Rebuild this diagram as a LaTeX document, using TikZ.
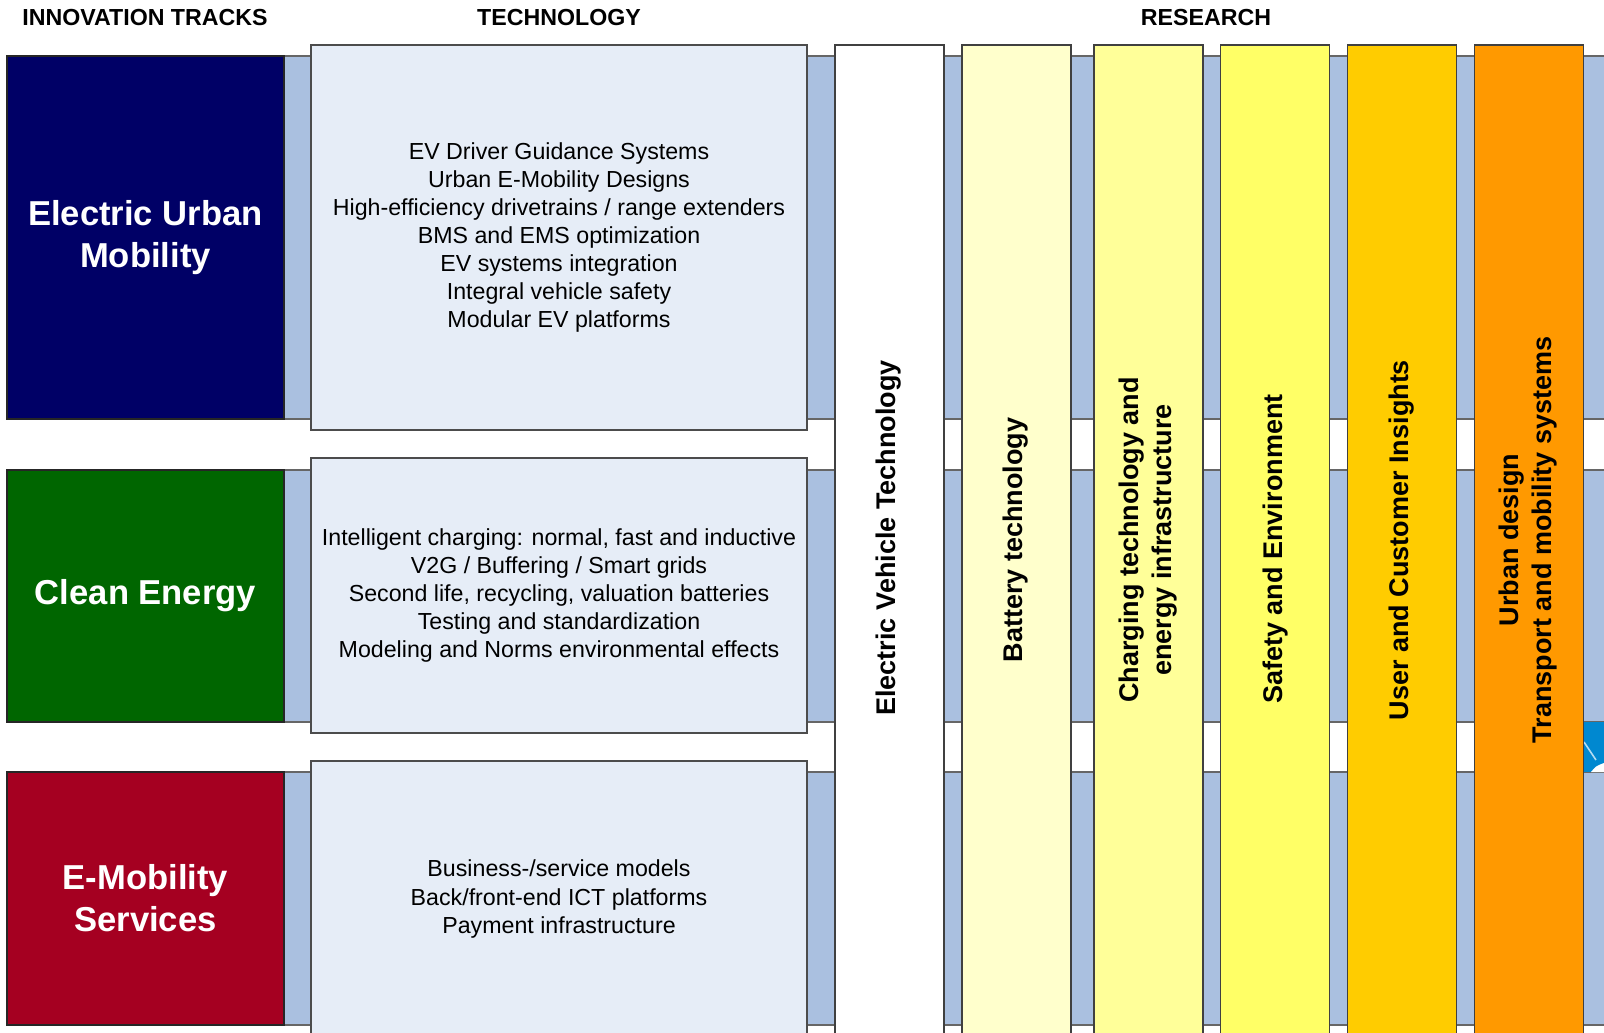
\documentclass[tikz,border=0pt]{standalone}
\usepackage{fontspec}
\setmainfont{Liberation Sans}
\definecolor{navytrack}{HTML}{000066}
\definecolor{greentrack}{HTML}{006600}
\definecolor{redtrack}{HTML}{A50021}
\definecolor{bandblue}{HTML}{AAC0E0}
\definecolor{techfill}{HTML}{E6EDF7}
\definecolor{colbattery}{HTML}{FFFFCC}
\definecolor{colcharging}{HTML}{FFFF99}
\definecolor{colsafety}{HTML}{FFFF66}
\definecolor{coluser}{HTML}{FFCC00}
\definecolor{colurban}{HTML}{FF9900}
\definecolor{logoblue}{HTML}{0088D0}
\begin{document}
\begin{tikzpicture}[x=0.5pt, y=-0.5pt, band/.style={draw=black!60, line width=0.6pt, fill=bandblue}]
        \tikzset{track/.style={rectangle, draw=black!85, line width=0.6pt, text=white, align=center, minimum width=138.5pt, font=\bfseries\fontsize{17.3}{21}\selectfont},
            techbox/.style={rectangle, draw=black!70, line width=0.6pt, fill=techfill, align=center, minimum width=248pt, font=\fontsize{11.6}{14.05}\selectfont},
            column/.style={rectangle, draw=black!75, line width=0.6pt, minimum width=54.5pt, minimum height=497.5pt},
            collabel/.style={rotate=90, align=center, font=\bfseries\fontsize{13.5}{16.4}\selectfont},
            heading/.style={font=\bfseries\fontsize{11.6}{14}\selectfont}};
        \useasboundingbox[fill=white] (0, 0) rectangle (1604, 1032);

        % headings
        \node[heading] (h1) at (145, 18) {INNOVATION TRACKS};
        \node[heading] (h2) at (559, 18) {TECHNOLOGY};
        \node[heading] (h3) at (1206, 18) {RESEARCH};

        % bands behind the tracks
        \draw[band] (7, 56) rectangle (1610, 419);
        \draw[band] (7, 470) rectangle (1610, 722);
        \draw[band] (7, 772) rectangle (1610, 1025);
        \fill[logoblue] (1584, 722) rectangle (1604, 772);
        \fill[white] (1591, 772) .. controls (1596, 766) .. (1604, 763) -- (1604, 772) -- cycle;
        \draw[white!70!logoblue, line width=0.8pt] (1584, 742) -- (1596, 760);

        % innovation tracks
        \node[track, fill=navytrack, minimum height=181.5pt] (t1) at (145.5, 237.5) {Electric Urban\\Mobility};
        \node[track, fill=greentrack, minimum height=126pt] (t2) at (145.5, 596) {Clean Energy};
        \node[track, fill=redtrack, minimum height=126.5pt] (t3) at (145.5, 898.5) {E-Mobility\\Services};

        % technology
        \node[techbox, minimum height=192.5pt] (k1) at (559, 237.5) {EV Driver Guidance Systems\\Urban E-Mobility Designs\\High-efficiency drivetrains / range extenders\\BMS and EMS optimization\\EV systems integration\\Integral vehicle safety\\Modular EV platforms};
        \node[techbox, minimum height=137.5pt] (k2) at (559, 595.5) {Intelligent charging: normal, fast and inductive\\V2G / Buffering / Smart grids\\Second life, recycling, valuation batteries\\Testing and standardization\\Modeling and Norms environmental effects};
        \node[techbox, minimum height=138pt] (k3) at (559, 899) {Business-/service models\\Back/front-end ICT platforms\\Payment infrastructure};

        % research
        \node[column, fill=white] (r1) at (889.5, 542.5) {};
        \node[column, fill=colbattery] (r2) at (1016.5, 542.5) {};
        \node[column, fill=colcharging] (r3) at (1148.5, 542.5) {};
        \node[column, fill=colsafety] (r4) at (1275, 542.5) {};
        \node[column, fill=coluser] (r5) at (1402, 542.5) {};
        \node[column, fill=colurban] (r6) at (1529, 542.5) {};

        \node[collabel] (l1) at (889, 538) {Electric Vehicle Technology};
        \node[collabel] (l2) at (1016, 540) {Battery technology};
        \node[collabel] (l3) at (1148, 540) {Charging technology and\\energy infrastructure};
        \node[collabel] (l4) at (1275, 549) {Safety and Environment};
        \node[collabel] (l5) at (1402, 540) {User and Customer Insights};
        \node[collabel] (l6) at (1528, 540) {Urban design\\Transport and mobility systems};
    \end{tikzpicture}
\end{document}
